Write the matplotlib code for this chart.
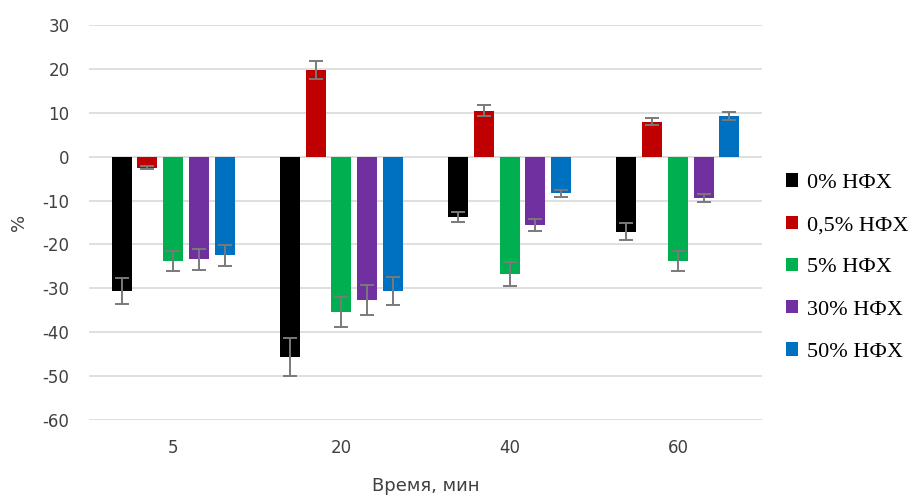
import matplotlib
matplotlib.use("Agg")
import matplotlib.pyplot as plt
import numpy as np

plt.rcParams["axes.unicode_minus"] = False

# Time points (min) and groups
times = ["5", "20", "40", "60"]
series = ["0% НФХ", "0,5% НФХ", "5% НФХ", "30% НФХ", "50% НФХ"]
colors = ["#000000", "#C00000", "#00B050", "#7030A0", "#0070C0"]

# Mean change, % (one list per group, across time points)
val_0 = [-30.6, -45.6, -13.8, -17.1]
val_05 = [-2.5, 19.8, 10.5, 8.0]
val_5 = [-23.8, -35.4, -26.7, -23.8]
val_30 = [-23.4, -32.7, -15.5, -9.5]
val_50 = [-22.5, -30.6, -8.3, 9.3]

# Error bar half-widths
err_0 = [3.0, 4.3, 1.2, 1.9]
err_05 = [0.3, 2.0, 1.3, 0.9]
err_5 = [2.3, 3.5, 2.8, 2.3]
err_30 = [2.4, 3.4, 1.4, 0.9]
err_50 = [2.4, 3.1, 0.8, 0.9]

values = [val_0, val_05, val_5, val_30, val_50]
errors = [err_0, err_05, err_5, err_30, err_50]

fig = plt.figure(figsize=(9.14, 4.97), dpi=100)
ax = fig.add_axes([0.0974, 0.155, 0.7363, 0.7947])

x = np.arange(len(times))
width = 0.119
step = 0.153
for i, (name, col, v, e) in enumerate(zip(series, colors, values, errors)):
    pos = x + (i - 2) * step
    ax.bar(pos, v, width=width, color=col, label=name, zorder=3)
    ax.errorbar(pos, v, yerr=e, fmt="none", ecolor="#7a7a7a",
                elinewidth=1.4, capsize=5, capthick=1.4, zorder=4)

ax.set_xlim(-0.5, len(times) - 0.5)
ax.set_ylim(-60, 30)
ax.set_yticks(np.arange(-60, 31, 10))
ax.set_xticks(x)
ax.set_xticklabels(times)
ax.grid(axis="y", color="#d9d9d9", linewidth=1.2, zorder=0)
ax.set_axisbelow(True)
for s in ax.spines.values():
    s.set_visible(False)
ax.tick_params(axis="both", length=0, labelsize=12, labelcolor="#404040")
ax.tick_params(axis="x", pad=14)
ax.tick_params(axis="y", pad=14)

ax.set_ylabel("%", fontsize=13, color="#404040")
ax.yaxis.set_label_coords(-0.09, 0.5)
ax.set_xlabel("Время, мин", fontsize=13, color="#404040", labelpad=14)

leg = ax.legend(loc="center left", bbox_to_anchor=(1.022, 0.386), frameon=False,
                prop={"family": "Liberation Serif", "size": 16},
                handlelength=0.55, handleheight=0.55, handletextpad=0.4,
                labelspacing=1.02, borderaxespad=0)

fig.savefig("out.png", dpi=100)
